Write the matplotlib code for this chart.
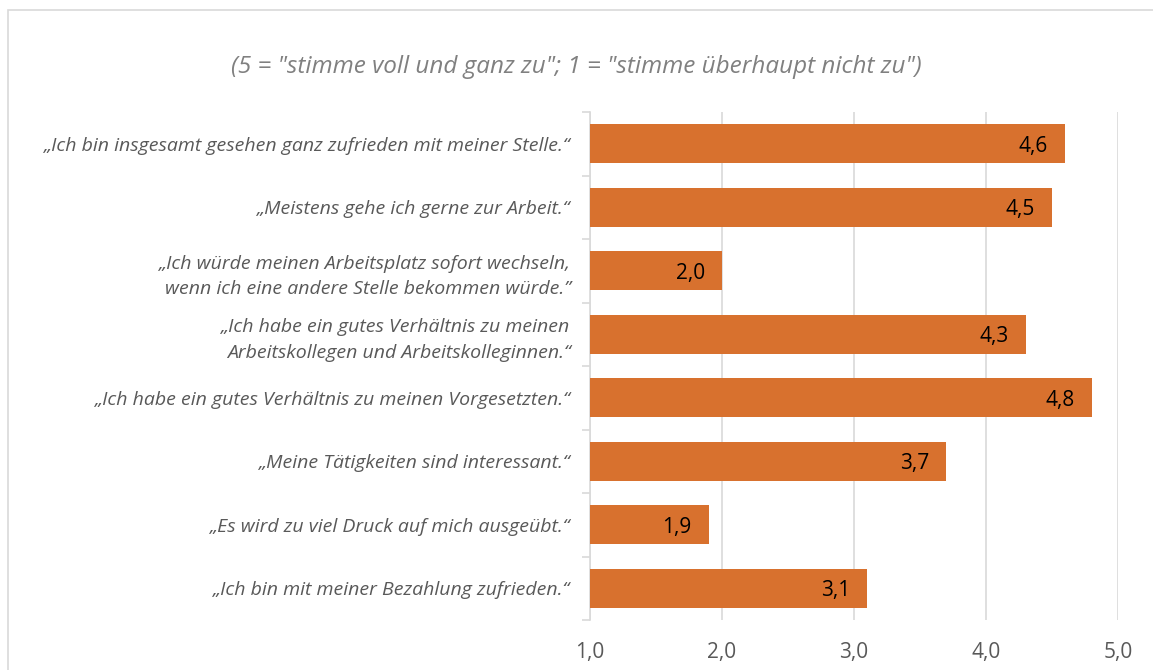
import matplotlib.pyplot as plt
from matplotlib.patches import Rectangle

# Aussagen (von oben nach unten) und Mittelwerte
labels = [
    "„Ich bin insgesamt gesehen ganz zufrieden mit meiner Stelle.“",
    "„Meistens gehe ich gerne zur Arbeit.“",
    "„Ich würde meinen Arbeitsplatz sofort wechseln,\nwenn ich eine andere Stelle bekommen würde.”",
    "„Ich habe ein gutes Verhältnis zu meinen\nArbeitskollegen und Arbeitskolleginnen.“",
    "„Ich habe ein gutes Verhältnis zu meinen Vorgesetzten.“",
    "„Meine Tätigkeiten sind interessant.“",
    "„Es wird zu viel Druck auf mich ausgeübt.“",
    "„Ich bin mit meiner Bezahlung zufrieden.“",
]
werte = [4.6, 4.5, 2.0, 4.3, 4.8, 3.7, 1.9, 3.1]
xticks = [1.0, 2.0, 3.0, 4.0, 5.0]
title = '(5 = "stimme voll und ganz zu"; 1 = "stimme überhaupt nicht zu")'

plt.rcParams['font.family'] = ['Open Sans', 'DejaVu Sans']

fig = plt.figure(figsize=(11.53, 6.70), dpi=100)
ax = fig.add_axes([590/1153, 50/670, 528/1153, 508/670])

# Rahmen
fig.patches.append(Rectangle((8/1153, -0.05), 1.2, 660/670 + 0.05, transform=fig.transFigure,
                             fill=False, edgecolor='#d9d9d9', linewidth=1.2))

y = list(range(len(labels)))
ax.barh(y, [w - 1 for w in werte], left=1, height=0.62, color='#d8712e', zorder=3)
for i, w in enumerate(werte):
    ax.text(w - 0.13, i + 0.04, f"{w:.1f}".replace('.', ','), ha='right', va='center',
            fontsize=15, color='black', zorder=4)

ax.set_xlim(1, 5)
ax.set_ylim(len(labels) - 0.5, -0.5)
ax.set_xticks(xticks)
ax.set_xticklabels([f"{t:.1f}".replace('.', ',') for t in xticks], fontsize=15, color='#595959')
ax.xaxis.grid(True, color='#d9d9d9', linewidth=1.2, zorder=0)
ax.tick_params(axis='x', length=0, pad=16)

ax.set_yticks(y)
ax.set_yticklabels(labels, fontsize=14, style='italic', color='#595959', linespacing=1.55)
ax.set_yticks([i + 0.5 for i in range(-1, len(labels))], minor=True)
ax.tick_params(axis='y', which='major', length=0, pad=14)
ax.tick_params(axis='y', which='minor', length=6, color='#d9d9d9', width=1.2)

for s in ['top', 'right', 'bottom']:
    ax.spines[s].set_visible(False)
ax.spines['left'].set_color('#d9d9d9')
ax.spines['left'].set_linewidth(1.2)

fig.text(576/1153, 1 - 67/670, title, ha='center', va='center', fontsize=17.5,
         style='italic', color='#808080')

fig.savefig('out.png', dpi=100)
